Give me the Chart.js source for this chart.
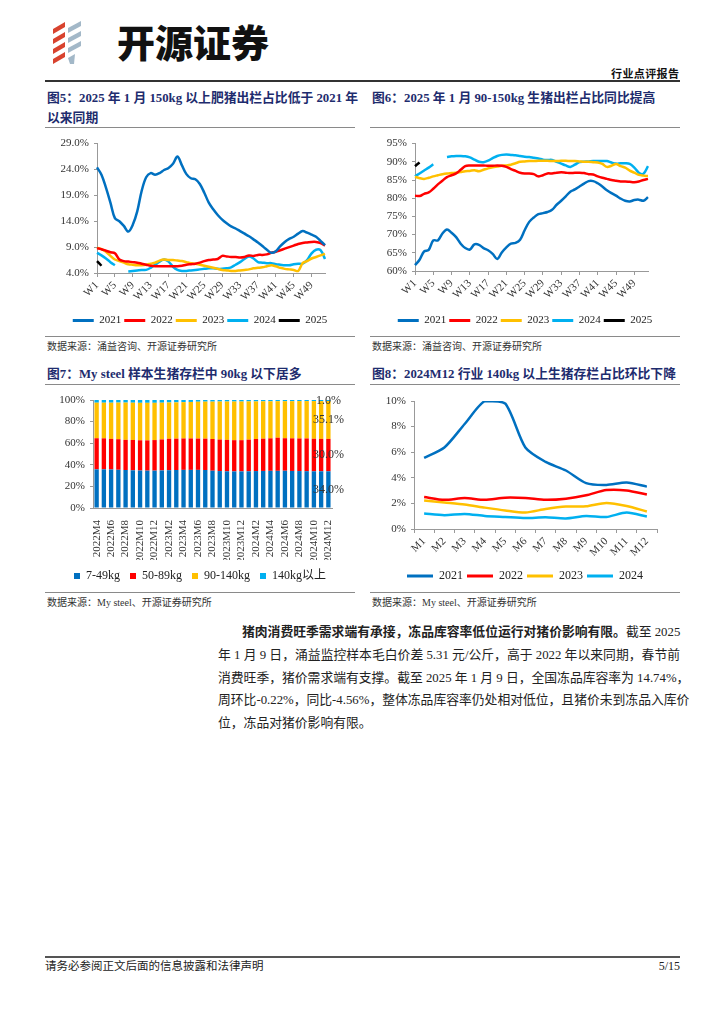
<!DOCTYPE html>
<html lang="zh-CN">
<head>
<meta charset="UTF-8" />
<title>行业点评报告</title>
<script src="https://cdn.jsdelivr.net/npm/chart.js"></script>
<style>
  body { margin: 0; background: #fff; font-family: "Liberation Serif", "Noto Sans CJK SC", serif; color: #222; }
  .page { position: relative; width: 724px; height: 1024px; overflow: hidden; }
  .abs { position: absolute; }
  .rule { position: absolute; height: 1px; background: #8a8a8a; }
  .ftitle { position: absolute; font-size: 12.8px; font-weight: bold; color: #1e2c6e; line-height: 20px; white-space: nowrap; }
  .src { position: absolute; font-size: 10px; line-height: 14px; color: #333; white-space: nowrap; }
  .para { position: absolute; left: 218px; top: 621px; width: 462px; font-size: 12.8px; line-height: 22.8px; color: #222; }
  .para div { white-space: nowrap; text-align: justify; text-align-last: justify; }
  canvas { position: absolute; }
</style>
</head>
<body>
<div class="page">

  <!-- header -->
  <svg class="abs" style="left:50px;top:20px" width="36" height="46" viewBox="0 0 36 46">
    <g fill="#d8432f">
      <polygon points="3,9 15,2 15,7 3,14" />
      <polygon points="3,19 15,12 15,17 3,24" />
      <polygon points="3,29 15,22 15,27 3,34" />
      <polygon points="3,39 15,32 15,37 3,44" />
    </g>
    <g fill="#a3b8c8">
      <polygon points="18,8 31,1 31,6 18,13" />
      <polygon points="18,18 31,11 31,16 18,23" />
      <polygon points="18,28 31,21 31,26 18,33" />
      <polygon points="18,38 25,34 24,44 20,44" />
    </g>
  </svg>
  <div class="abs" style="left:117px;top:19px;font-family:'Noto Sans CJK SC';font-weight:900;font-size:38px;line-height:44px;color:#111;">开源证券</div>
  <div class="abs" style="left:611px;top:66px;font-family:'Noto Sans CJK SC';font-weight:bold;font-size:11px;line-height:14px;color:#111;letter-spacing:0.4px;">行业点评报告</div>
  <div class="rule" style="left:45px;top:80px;width:635px;height:1.5px;background:#333;"></div>

  <!-- figure titles -->
  <div class="ftitle" style="left:47px;top:88px;">图5：2025 年 1 月 150kg 以上肥猪出栏占比低于 2021 年<br>以来同期</div>
  <div class="rule" style="left:45px;top:127px;width:310px;"></div>
  <div class="ftitle" style="left:372px;top:88px;">图6：2025 年 1 月 90-150kg 生猪出栏占比同比提高</div>
  <div class="rule" style="left:370px;top:127px;width:310px;"></div>

  <canvas id="c5" width="310" height="204" style="left:45px;top:132px;"></canvas>
  <canvas id="c6" width="310" height="204" style="left:370px;top:132px;"></canvas>

  <div class="rule" style="left:45px;top:336px;width:310px;"></div>
  <div class="src" style="left:47px;top:340px;">数据来源：涌益咨询、开源证券研究所</div>
  <div class="rule" style="left:370px;top:336px;width:310px;"></div>
  <div class="src" style="left:372px;top:340px;">数据来源：涌益咨询、开源证券研究所</div>

  <div class="ftitle" style="left:47px;top:364px;">图7：My steel 样本生猪存栏中 90kg 以下居多</div>
  <div class="rule" style="left:45px;top:384px;width:310px;"></div>
  <div class="ftitle" style="left:372px;top:364px;">图8：2024M12 行业 140kg 以上生猪存栏占比环比下降</div>
  <div class="rule" style="left:370px;top:384px;width:310px;"></div>

  <canvas id="c7" width="310" height="204" style="left:45px;top:388px;"></canvas>
  <canvas id="c8" width="310" height="204" style="left:370px;top:388px;"></canvas>

  <div class="rule" style="left:45px;top:592px;width:310px;"></div>
  <div class="src" style="left:47px;top:596px;">数据来源：My steel、开源证券研究所</div>
  <div class="rule" style="left:370px;top:592px;width:310px;"></div>
  <div class="src" style="left:372px;top:596px;">数据来源：My steel、开源证券研究所</div>

  <!-- body text -->
  <div class="para">
    <div style="text-indent:24px;"><b>猪肉消费旺季需求端有承接，冻品库容率低位运行对猪价影响有限。</b>截至 2025</div>
    <div>年 1 月 9 日，涌益监控样本毛白价差 5.31 元/公斤，高于 2022 年以来同期，春节前</div>
    <div>消费旺季，猪价需求端有支撑。截至 2025 年 1 月 9 日，全国冻品库容率为 14.74%，</div>
    <div>周环比-0.22%，同比-4.56%，整体冻品库容率仍处相对低位，且猪价未到冻品入库价</div>
    <div style="text-align-last:left;">位，冻品对猪价影响有限。</div>
  </div>

  <!-- footer -->
  <div class="rule" style="left:45px;top:956px;width:635px;height:1.5px;background:#555;"></div>
  <div class="abs" style="left:45px;top:959px;font-size:11.5px;line-height:15px;color:#222;">请务必参阅正文后面的信息披露和法律声明</div>
  <div class="abs" style="left:640px;top:959px;width:40px;text-align:right;font-size:12px;line-height:15px;color:#222;">5/15</div>
</div>

<script>
// ---- data: fig 5, share of fattened pigs above 150kg, weekly (%)
const weeks = ['W1','W2','W3','W4','W5','W6','W7','W8','W9','W10','W11','W12','W13',
  'W14','W15','W16','W17','W18','W19','W20','W21','W22','W23','W24','W25','W26',
  'W27','W28','W29','W30','W31','W32','W33','W34','W35','W36','W37','W38','W39',
  'W40','W41','W42','W43','W44','W45','W46','W47','W48','W49','W50','W51','W52'];
const yearNames = ['2021', '2022', '2023', '2024', '2025'];

const fat2021 = [24.4,23.0,20.5,17.6,14.6,14.0,13.1,12.0,13.3,15.9,
  19.9,22.5,23.3,23.0,23.3,23.9,24.3,25.1,26.5,24.8,
  23.1,22.3,22.1,21.2,19.5,17.6,16.3,15.2,14.3,13.6,
  13.0,12.6,12.1,11.6,11.1,10.5,9.9,9.2,8.5,7.9,
  8.2,9.2,10.0,10.6,11.0,11.6,12.1,11.8,11.4,11.0,
  10.2,9.4];
const fat2022 = [8.8,8.6,8.3,8.0,7.8,6.6,6.3,6.2,6.1,6.0,
  5.8,5.6,5.4,5.3,5.3,5.3,5.3,5.3,5.3,5.4,
  5.6,5.7,5.8,6.0,6.3,6.5,6.6,6.7,7.3,7.2,
  7.1,7.1,7.0,7.1,7.4,7.3,7.5,7.5,7.6,7.9,
  8.1,8.4,8.7,9.0,9.3,9.6,9.8,9.9,10.0,10.0,
  9.8,9.3];
const fat2023 = [8.9,8.6,8.1,7.3,6.6,6.3,6.0,5.7,5.6,5.5,
  5.5,5.6,5.8,6.0,6.4,6.6,6.5,6.5,6.4,6.3,
  6.1,5.9,5.8,5.6,5.4,5.2,5.0,4.8,4.6,4.5,
  4.4,4.4,4.5,4.6,4.7,4.9,5.0,5.1,5.3,5.5,
  5.3,5.0,4.8,4.7,4.6,4.4,5.9,6.3,6.8,7.1,
  7.4,7.7];
const fat2024 = [7.9,7.4,6.8,6.1,5.5,null,null,4.3,4.4,4.5,
  4.6,4.6,5.0,5.6,6.2,6.6,6.2,5.2,4.6,4.4,
  4.4,4.5,4.6,4.7,4.8,4.9,4.9,4.8,4.8,4.9,
  5.1,5.6,6.1,6.7,7.2,6.8,6.1,6.0,5.9,5.9,
  5.7,5.6,5.5,5.5,5.7,5.8,5.8,6.5,7.8,8.5,
  8.4,6.7];
const fat2025 = [6.3, 5.4];

// ---- data: fig 6, share of 90-150kg pigs, weekly (%)
const mid2021 = [61.6,63.1,65.4,65.8,68.4,68.4,70.3,71.4,70.5,69.3,
  67.5,66.3,65.9,67.3,67.2,66.3,65.7,64.7,63.3,65.1,
  66.5,67.5,67.7,68.6,71.2,73.5,74.7,75.6,75.9,76.2,
  76.8,78.2,79.3,80.5,81.8,82.4,83.2,84.0,84.7,84.7,
  84.1,83.2,82.2,81.4,80.7,79.9,79.3,79.1,79.5,79.6,
  79.3,80.3];
const mid2022 = [80.7,80.6,81.2,81.6,82.6,83.8,84.8,85.8,86.3,86.8,
  87.8,88.8,89.0,89.0,89.0,89.0,88.9,88.9,89.0,88.9,
  88.6,88.0,87.5,87.0,86.8,86.8,86.6,86.0,86.3,86.8,
  86.8,87.0,87.1,87.0,86.9,87.0,87.0,86.9,86.6,86.5,
  86.0,85.6,85.3,85.0,84.8,84.6,84.6,84.5,84.4,84.6,
  85.0,85.3];
const mid2023 = [85.9,85.5,85.3,85.6,86.0,86.3,86.6,86.8,86.9,87.0,
  87.2,87.4,87.5,87.7,87.4,87.8,88.2,88.5,88.7,88.9,
  89.0,89.2,89.6,90.0,90.1,90.2,90.2,90.3,90.3,90.3,
  90.2,90.2,90.3,90.3,90.2,90.2,90.1,90.0,90.0,89.9,
  89.8,89.4,88.6,88.9,89.4,88.8,88.4,87.6,87.0,86.4,
  86.2,86.1];
const mid2024 = [86.0,86.8,87.6,88.4,89.3,null,null,91.3,91.5,91.6,
  91.6,91.5,91.2,90.6,90.0,89.9,90.3,91.0,91.6,91.9,
  92.0,91.9,91.8,91.6,91.4,91.3,91.1,90.9,90.6,90.5,
  90.5,90.0,89.5,89.0,88.6,89.2,89.9,90.0,90.1,90.2,
  90.2,90.2,90.2,89.8,89.5,89.6,89.6,89.4,88.4,87.0,
  86.7,88.8];
const mid2025 = [88.8, 89.8];

// ---- data: fig 7, My steel sample stock structure (%)
const stockMonths = ['2022M4','2022M5','2022M6','2022M7','2022M8','2022M9','2022M10','2022M11','2022M12',
  '2023M1','2023M2','2023M3','2023M4','2023M5','2023M6','2023M7','2023M8','2023M9','2023M10','2023M11','2023M12',
  '2024M1','2024M2','2024M3','2024M4','2024M5','2024M6','2024M7','2024M8','2024M9','2024M10','2024M11','2024M12'];
const stockGroups = ['7-49kg', '50-89kg', '90-140kg', '140kg以上'];
const stock7to49 = [35.8,35.8,35.7,35.4,35.2,34.9,34.7,34.6,34.6,34.8,35.0,35.2,35.3,35.3,35.3,35.2,
  34.5,34.2,34.0,33.9,33.9,34.0,34.2,34.3,34.4,34.4,34.5,34.3,34.2,34.1,34.0,34.0,34.0];
const stock50to89 = [28.8,28.7,28.3,28.3,27.9,28.1,28.0,28.0,28.3,28.7,29.1,29.0,29.1,29.1,29.0,29.0,
  29.4,29.2,29.1,28.9,28.9,29.3,29.7,29.9,30.1,30.7,30.1,30.2,30.2,30.3,30.1,30.0,30.0];
const stock90to140 = [32.9,33.0,33.5,33.9,34.5,34.5,34.7,34.8,34.5,34.0,33.6,33.6,33.6,33.8,34.1,34.3,
  34.6,35.2,35.5,35.8,35.8,35.4,34.8,34.6,34.3,33.8,34.3,34.4,34.6,34.6,34.9,35.0,35.1];
const stock140up = [2.5,2.5,2.5,2.4,2.4,2.5,2.6,2.6,2.6,2.5,2.3,2.2,2.0,1.8,1.6,1.5,
  1.5,1.4,1.4,1.4,1.4,1.3,1.3,1.2,1.2,1.1,1.1,1.1,1.0,1.0,1.0,1.0,1.0];

// ---- data: fig 8, industry share of pigs above 140kg, monthly (%)
const months = ['M1','M2','M3','M4','M5','M6','M7','M8','M9','M10','M11','M12'];
const heavy2021 = [5.56,6.37,8.2,10.0,9.81,6.37,5.24,4.57,3.58,3.44,3.63,3.31];
const heavy2022 = [2.50,2.28,2.42,2.28,2.45,2.42,2.28,2.37,2.63,3.04,3.01,2.69];
const heavy2023 = [2.23,2.07,1.91,1.67,1.45,1.29,1.56,1.75,1.77,2.04,1.80,1.37];
const heavy2024 = [1.21,1.08,1.18,1.02,0.94,0.86,0.91,0.83,1.02,0.94,1.29,0.97];

const colors = ['#0070c0', '#ff0000', '#ffc000', '#00b0f0', '#000000'];

// ---- shared styling
const serif = '"Liberation Serif", "Noto Sans CJK SC", serif';
Chart.defaults.font.family = serif;
Chart.defaults.font.size = 11;
Chart.defaults.color = '#333';
Chart.defaults.animation = false;

function lineSet(label, data, color, tension) {
  return {
    label: label, data: data,
    borderColor: color, backgroundColor: color,
    borderWidth: 2.5, pointRadius: 0, tension: tension,
    fill: false, spanGaps: false
  };
}

function yAxis(min, max, step, width, fmt) {
  return {
    min: min, max: max,
    ticks: { stepSize: step, padding: 5, callback: fmt },
    grid: { drawOnChartArea: false, drawTicks: true, tickLength: 3, color: '#999' },
    border: { color: '#999' },
    afterFit: s => { s.width = width; }
  };
}

// empty axis on the right, only keeps room so the legend stays centred on the canvas
function spacer(width) {
  return {
    position: 'right',
    grid: { display: false }, border: { display: false }, ticks: { display: false },
    afterFit: s => { s.width = width; }
  };
}

function weekAxis(height) {
  return {
    ticks: { autoSkip: false, minRotation: 45, maxRotation: 45, padding: 2,
             callback: (v, i) => i % 4 === 0 ? weeks[i] : null },
    grid: { drawOnChartArea: false, drawTicks: true, tickLength: 4, color: '#999' },
    border: { color: '#999' },
    afterFit: s => { s.height = height; }
  };
}

function legend(size, boxW, boxH, pad) {
  return {
    position: 'bottom',
    labels: {
      boxWidth: boxW, boxHeight: boxH, padding: pad,
      font: { size: size }, color: '#222',
      generateLabels: ch => Chart.defaults.plugins.legend.labels.generateLabels(ch)
        .map(l => Object.assign(l, { lineWidth: 0 }))
    }
  };
}

const pct1 = v => v.toFixed(1) + '%';
const pct0 = v => v + '%';

// ---- fig 5
new Chart(document.getElementById('c5'), {
  type: 'line',
  data: {
    labels: weeks,
    datasets: [
      lineSet(yearNames[0], fat2021, colors[0], 0.35),
      lineSet(yearNames[1], fat2022, colors[1], 0.35),
      lineSet(yearNames[2], fat2023, colors[2], 0.35),
      lineSet(yearNames[3], fat2024, colors[3], 0.35),
      lineSet(yearNames[4], fat2025, colors[4], 0.35)
    ]
  },
  options: {
    responsive: false,
    layout: { padding: { top: 10, bottom: 0, left: 0, right: 0 } },
    scales: { x: weekAxis(39), y: yAxis(4, 29, 5, 52, pct1), yR: spacer(30) },
    plugins: { legend: legend(11, 21, 3, 3), tooltip: { enabled: false } }
  }
});

// ---- fig 6
new Chart(document.getElementById('c6'), {
  type: 'line',
  data: {
    labels: weeks,
    datasets: [
      lineSet(yearNames[0], mid2021, colors[0], 0.35),
      lineSet(yearNames[1], mid2022, colors[1], 0.35),
      lineSet(yearNames[2], mid2023, colors[2], 0.35),
      lineSet(yearNames[3], mid2024, colors[3], 0.35),
      lineSet(yearNames[4], mid2025, colors[4], 0.35)
    ]
  },
  options: {
    responsive: false,
    layout: { padding: { top: 10, bottom: 0, left: 0, right: 0 } },
    scales: { x: weekAxis(41), y: yAxis(60, 95, 5, 45, pct0), yR: spacer(32) },
    plugins: { legend: legend(11, 21, 3, 3), tooltip: { enabled: false } }
  }
});

// ---- fig 7
const lastBarLabels = {
  id: 'lastBarLabels',
  afterDatasetsDraw(chart) {
    const ctx = chart.ctx;
    ctx.save();
    ctx.font = '12px ' + serif;
    ctx.fillStyle = '#333';
    ctx.textAlign = 'center';
    ctx.textBaseline = 'middle';
    chart.data.datasets.forEach((ds, i) => {
      const n = ds.data.length - 1;
      const bar = chart.getDatasetMeta(i).data[n];
      ctx.fillText(ds.data[n].toFixed(1) + '%', bar.x, (bar.y + bar.base) / 2);
    });
    ctx.restore();
  }
};

function barSet(label, data, color) {
  return { label: label, data: data, backgroundColor: color, borderWidth: 0,
           barPercentage: 0.6, categoryPercentage: 1 };
}

new Chart(document.getElementById('c7'), {
  type: 'bar',
  data: {
    labels: stockMonths,
    datasets: [
      barSet(stockGroups[0], stock7to49, colors[0]),
      barSet(stockGroups[1], stock50to89, colors[1]),
      barSet(stockGroups[2], stock90to140, colors[2]),
      barSet(stockGroups[3], stock140up, colors[3])
    ]
  },
  options: {
    responsive: false,
    layout: { padding: { top: 12, bottom: 0, left: 0, right: 0 } },
    scales: {
      x: {
        stacked: true,
        ticks: { autoSkip: false, minRotation: 90, maxRotation: 90, padding: 4,
                 callback: (v, i) => i % 2 === 0 ? stockMonths[i] : null },
        grid: { display: false },
        border: { color: '#999' },
        afterFit: s => { s.height = 52; }
      },
      y: Object.assign(yAxis(0, 100, 10, 48, pct0), { stacked: true }),
      yR: spacer(23)
    },
    plugins: {
      legend: { position: 'bottom', labels: { boxWidth: 6, boxHeight: 6, padding: 10, font: { size: 12 }, color: '#222' } },
      tooltip: { enabled: false }
    }
  },
  plugins: [lastBarLabels]
});

// ---- fig 8
new Chart(document.getElementById('c8'), {
  type: 'line',
  data: {
    labels: months,
    datasets: [
      lineSet(yearNames[0], heavy2021, colors[0], 0.25),
      lineSet(yearNames[1], heavy2022, colors[1], 0.25),
      lineSet(yearNames[2], heavy2023, colors[2], 0.25),
      lineSet(yearNames[3], heavy2024, colors[3], 0.25)
    ]
  },
  options: {
    responsive: false,
    layout: { padding: { top: 13, bottom: 0, left: 0, right: 0 } },
    scales: {
      x: {
        offset: true,
        ticks: { autoSkip: false, minRotation: 45, maxRotation: 45, padding: 2 },
        grid: { offset: true, drawOnChartArea: false, drawTicks: true, tickLength: 4, color: '#999' },
        border: { color: '#999' },
        afterFit: s => { s.height = 37; }
      },
      y: yAxis(0, 10, 2, 44, pct0),
      yR: spacer(23)
    },
    plugins: { legend: legend(12, 26, 3, 4), tooltip: { enabled: false } }
  }
});
</script>
</body>
</html>
